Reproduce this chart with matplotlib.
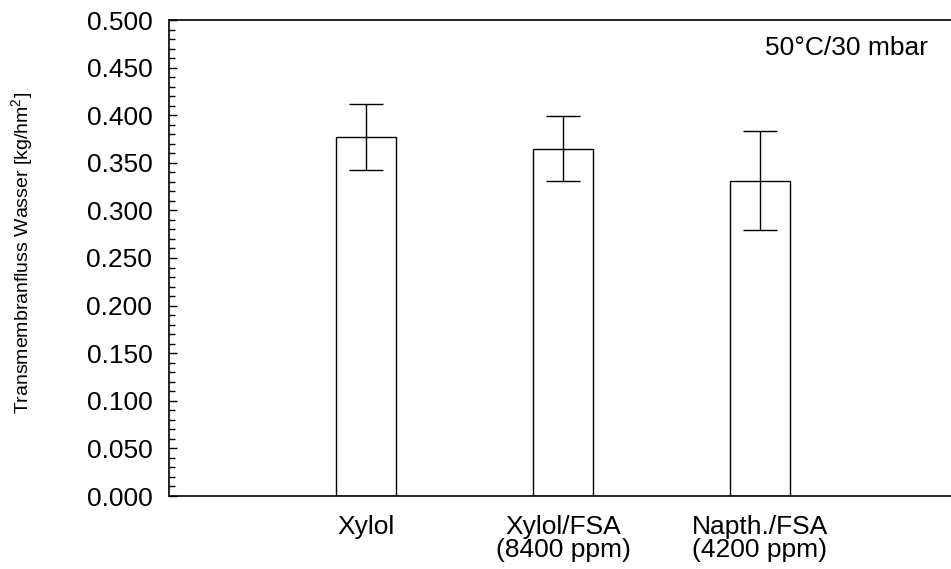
import matplotlib
matplotlib.use("Agg")
import matplotlib.pyplot as plt
from matplotlib.ticker import MultipleLocator, FormatStrFormatter

plt.rcParams['font.family'] = ['Liberation Sans', 'DejaVu Sans']
plt.rcParams['mathtext.default'] = 'regular'

# flux measurements with standard deviation
categories = ["Xylol", "Xylol/FSA\n(8400 ppm)", "Napth./FSA\n(4200 ppm)"]
flux = [0.377, 0.365, 0.331]
flux_err = [0.0345, 0.0342, 0.052]
condition = "50°C/30 mbar"

fig = plt.figure(figsize=(9.51, 5.69), dpi=100)
# one x unit = 197 px, axes run off the right edge of the figure
ax = fig.add_axes([169 / 951, (569 - 496) / 569, 788 / 951, 476 / 569])

positions = [1, 2, 3]
ax.bar(positions, flux, width=0.3, color="white", edgecolor="black", linewidth=1.0, zorder=2)
ax.errorbar(positions, flux, yerr=flux_err, fmt="none", ecolor="black",
            elinewidth=1.0, capsize=12.5, capthick=1.0, zorder=3)

ax.set_xlim(0, 4)
ax.set_ylim(0, 0.5)
ax.yaxis.set_major_locator(MultipleLocator(0.05))
ax.yaxis.set_minor_locator(MultipleLocator(0.01))
ax.yaxis.set_major_formatter(FormatStrFormatter("%.3f"))
ax.tick_params(axis="y", which="major", direction="in", length=6, width=1, pad=12, labelsize=19)
ax.tick_params(axis="y", which="minor", direction="in", length=4, width=1)
ax.set_xticks(positions)
ax.set_xticklabels(categories, fontsize=19, linespacing=0.95)
ax.tick_params(axis="x", length=0, pad=14)

ax.spines["right"].set_visible(False)
for s in ("left", "top", "bottom"):
    ax.spines[s].set_linewidth(1.2)

ax.set_ylabel("Transmembranfluss Wasser [kg/hm$^2$]", fontsize=14)
ax.yaxis.set_label_coords(-0.170, 0.51)

ax.text(3.853, 0.4706, condition, ha="right", va="center", fontsize=19)

fig.savefig("out.png", dpi=100)
